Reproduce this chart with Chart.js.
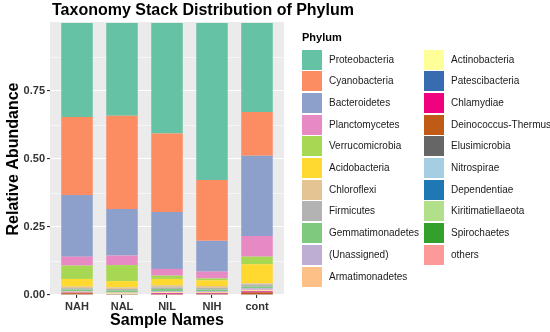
<!DOCTYPE html>
<html><head><meta charset="utf-8">
<script src="https://cdn.jsdelivr.net/npm/chart.js@4"></script>
<style>
html,body{margin:0;padding:0;background:#fff;}
#wrap{position:relative;width:550px;height:332px;overflow:hidden;font-family:"Liberation Sans",Arial,sans-serif;}
#c{position:absolute;left:0;top:0;width:550px;height:332px;}
#legend{position:absolute;left:0;top:0;width:550px;height:332px;}
.lt{position:absolute;font-weight:bold;font-size:11px;color:#000;line-height:13px;white-space:nowrap;}
.key{position:absolute;width:20px;height:20px;}
.lab{position:absolute;font-size:10px;color:#1a1a1a;line-height:12px;white-space:nowrap;}
</style></head>
<body><div id="wrap"><canvas id="c" width="550" height="332"></canvas><div id="legend"></div></div>
<script>
// ---- data ----
const titleText = 'Taxonomy Stack Distribution of Phylum';
const xTitle = 'Sample Names';
const yTitle = 'Relative Abundance';
const legendTitle = 'Phylum';
const categories = ['NAH', 'NAL', 'NIL', 'NIH', 'cont'];
const yTickValues = [0, 0.125, 0.25, 0.375, 0.5, 0.625, 0.75, 0.875];

const proteobacteria    = [0.346, 0.341, 0.406, 0.577, 0.327];
const cyanobacteria     = [0.286, 0.343, 0.289, 0.224, 0.161];
const bacteroidetes     = [0.227, 0.171, 0.209, 0.113, 0.295];
const planctomycetes    = [0.033, 0.035, 0.025, 0.025, 0.076];
const verrucomicrobia   = [0.049, 0.059, 0.012, 0.007, 0.028];
const acidobacteria     = [0.028, 0.023, 0.023, 0.021, 0.070];
const chloroflexi       = [0.006, 0.006, 0.008, 0.007, 0.004];
const firmicutes        = [0.005, 0.005, 0.006, 0.006, 0.008];
const gemmatimonadetes  = [0.006, 0.006, 0.008, 0.006, 0.006];
const unassigned        = [0.002, 0.002, 0.003, 0.003, 0.006];
const armatimonadetes   = [0.002, 0.003, 0.002, 0.003, 0.003];
const actinobacteria    = [0.001, 0.002, 0.002, 0.001, 0.002];
const patescibacteria   = [0.0005, 0.0005, 0.001, 0.001, 0.001];
const chlamydiae        = [0.002, 0.0003, 0.003, 0.002, 0.004];
const deinococcus       = [0.004, 0.0007, 0.001, 0.001, 0.006];
const elusimicrobia     = [0.0003, 0.0002, 0.0005, 0.0005, 0.0005];
const nitrospirae       = [0.0003, 0.0003, 0.0003, 0.0005, 0.0005];
const dependentiae      = [0.0003, 0.0002, 0.0003, 0.0005, 0.0005];
const kiritimatiellaeota= [0.0003, 0.0003, 0.0003, 0.0005, 0.0005];
const spirochaetes      = [0.0003, 0.0002, 0.0003, 0.0005, 0.0005];
const others            = [0.001, 0.0013, 0.0003, 0.0005, 0.0005];

const phylumNames = ['Proteobacteria','Cyanobacteria','Bacteroidetes','Planctomycetes','Verrucomicrobia',
  'Acidobacteria','Chloroflexi','Firmicutes','Gemmatimonadetes','(Unassigned)','Armatimonadetes',
  'Actinobacteria','Patescibacteria','Chlamydiae','Deinococcus-Thermus','Elusimicrobia','Nitrospirae',
  'Dependentiae','Kiritimatiellaeota','Spirochaetes','others'];
const phylumValues = [proteobacteria, cyanobacteria, bacteroidetes, planctomycetes, verrucomicrobia,
  acidobacteria, chloroflexi, firmicutes, gemmatimonadetes, unassigned, armatimonadetes,
  actinobacteria, patescibacteria, chlamydiae, deinococcus, elusimicrobia, nitrospirae,
  dependentiae, kiritimatiellaeota, spirochaetes, others];
const phylumColors = ['#66C2A5','#FC8D62','#8DA0CB','#E78AC3','#A6D854','#FFD92F','#E5C494','#B3B3B3',
  '#7FC97F','#BEAED4','#FDC086','#FFFF99','#386CB0','#F0027F','#BF5B17','#666666','#A6CEE3',
  '#1F78B4','#B2DF8A','#33A02C','#FB9A99'];

// ---- chart ----
const FONT = '"Liberation Sans", Arial, sans-serif';
const isMajor = v => Math.abs(v * 4 - Math.round(v * 4)) < 1e-9;

// stacking: first dataset at bottom, so reverse (others at bottom, Proteobacteria on top)
const datasets = phylumNames.map((name, i) => ({
  label: name,
  data: phylumValues[i].map((v, j) => ({ x: j + 1, y: v })),
  backgroundColor: phylumColors[i],
  borderWidth: 0,
  categoryPercentage: 0.7,
  barPercentage: 1.0
})).reverse();

const panelPlugin = {
  id: 'panel',
  beforeDraw(chart) {
    const { ctx, chartArea: a } = chart;
    ctx.save();
    ctx.fillStyle = '#ffffff';
    ctx.fillRect(0, 0, chart.width, chart.height);
    ctx.fillStyle = '#EBEBEB';
    ctx.fillRect(a.left, a.top - 1, a.right - a.left, a.bottom - a.top + 1);
    ctx.restore();
  },
  afterDraw(chart) {
    const { ctx, chartArea: a } = chart;
    ctx.save();
    ctx.font = 'bold 16px ' + FONT;
    ctx.fillStyle = '#000';
    ctx.textBaseline = 'middle';
    ctx.textAlign = 'left';
    ctx.fillText(titleText, a.left + 2, 11);
    ctx.restore();
  }
};

new Chart(document.getElementById('c'), {
  type: 'bar',
  data: { datasets },
  plugins: [panelPlugin],
  options: {
    responsive: false,
    animation: false,
    devicePixelRatio: 1,
    layout: { padding: { top: 23, right: 266, bottom: 0, left: 0 } },
    plugins: { legend: { display: false }, tooltip: { enabled: false }, title: { display: false } },
    scales: {
      x: {
        type: 'linear', stacked: true, min: 0.4, max: 5.6, offset: false,
        afterBuildTicks: s => { s.ticks = categories.map((c, i) => ({ value: i + 1 })); },
        afterFit: s => { s.height = 37; },
        grid: { offset: false, color: '#ffffff', lineWidth: 1.1, tickColor: '#333333', tickLength: 3, drawTicks: true },
        border: { display: false },
        ticks: {
          autoSkip: false, maxRotation: 0, padding: 2, color: '#333333',
          font: { family: FONT, size: 11, weight: 'bold' },
          callback: v => categories[Math.round(v) - 1] ?? ''
        },
        title: { display: true, text: xTitle, color: '#000', font: { family: FONT, size: 16, weight: 'bold', lineHeight: 1.2 }, padding: { top: 0, bottom: 2 } }
      },
      y: {
        stacked: true, min: 0, max: 1,
        afterBuildTicks: s => { s.ticks = yTickValues.map(v => ({ value: v })); },
        afterFit: s => { s.width = 50; },
        grid: {
          color: '#ffffff',
          lineWidth: ctx => (ctx.tick && isMajor(ctx.tick.value)) ? 1.1 : 0.55,
          tickColor: ctx => (ctx.tick && isMajor(ctx.tick.value)) ? '#333333' : 'rgba(0,0,0,0)',
          tickLength: 3, drawTicks: true
        },
        border: { display: false },
        ticks: {
          autoSkip: false, padding: 2, color: '#333333',
          font: { family: FONT, size: 11, weight: 'bold' },
          callback: v => isMajor(v) ? v.toFixed(2) : ''
        },
        title: { display: true, text: yTitle, color: '#000', font: { family: FONT, size: 16, weight: 'bold', lineHeight: 1.2 }, padding: { top: 4, bottom: 0 } }
      }
    }
  }
});

// ---- legend (HTML, real text) ----
const legendEl = document.getElementById('legend');
const t = document.createElement('div');
t.className = 'lt'; t.textContent = legendTitle;
t.style.left = '302px'; t.style.top = '31px';
legendEl.appendChild(t);
const perCol = Math.ceil(phylumNames.length / 2);
phylumNames.forEach((name, i) => {
  const col = Math.floor(i / perCol), row = i % perCol;
  const cy = 59.5 + row * 21.7;
  const k = document.createElement('div');
  k.className = 'key';
  k.style.left = (col === 0 ? 302 : 424) + 'px';
  k.style.top = (cy - 10) + 'px';
  k.style.background = phylumColors[i];
  legendEl.appendChild(k);
  const l = document.createElement('div');
  l.className = 'lab';
  l.style.left = (col === 0 ? 329 : 451) + 'px';
  l.style.top = (cy - 6) + 'px';
  l.textContent = name;
  legendEl.appendChild(l);
});
</script>
</body></html>
